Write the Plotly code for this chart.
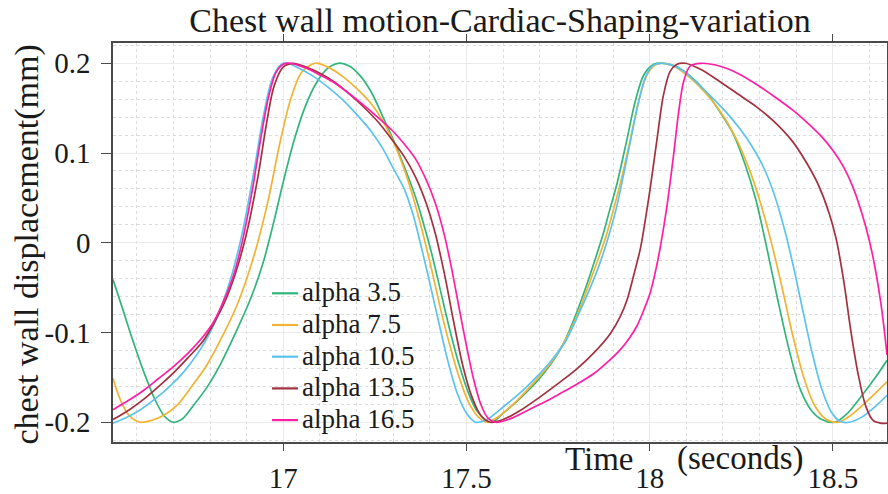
import plotly.graph_objects as go

# ---------------- data ----------------
series_names = ["alpha 3.5", "alpha 7.5", "alpha 10.5", "alpha 13.5", "alpha 16.5"]
series_colors = ["#31b57b", "#f2b332", "#5cc3ee", "#a3313f", "#ff1fa6"]

t_a35 = [16.535, 16.56, 16.59, 16.62, 16.65, 16.675, 16.70, 16.725, 16.755, 16.79, 16.83, 16.87, 16.91,
         16.945, 16.975, 17.00, 17.03, 17.06, 17.09, 17.12, 17.15, 17.18, 17.21, 17.24, 17.27, 17.30,
         17.33, 17.36, 17.38, 17.405, 17.43, 17.455, 17.48, 17.505, 17.53, 17.568, 17.60, 17.65, 17.70,
         17.756, 17.79, 17.829, 17.85, 17.874, 17.89, 17.911, 17.938, 17.961, 17.984, 18.011, 18.04, 18.075,
         18.11, 18.15, 18.19, 18.23, 18.26, 18.29, 18.32, 18.35, 18.38, 18.41, 18.44, 18.47, 18.505,
         18.54, 18.58, 18.62, 18.648]
y_a35 = [-0.041, -0.072, -0.110, -0.145, -0.175, -0.193, -0.200, -0.196, -0.181, -0.162, -0.134, -0.100, -0.063,
         -0.022, 0.025, 0.068, 0.115, 0.152, 0.178, 0.194, 0.200, 0.197, 0.186, 0.168, 0.142, 0.115,
         0.085, 0.052, 0.025, -0.012, -0.055, -0.098, -0.136, -0.167, -0.188, -0.200, -0.190, -0.172, -0.151,
         -0.119, -0.089, -0.046, -0.020, 0.011, 0.035, 0.066, 0.115, 0.158, 0.187, 0.199, 0.200, 0.196,
         0.186, 0.170, 0.147, 0.120, 0.088, 0.048, -0.006, -0.064, -0.118, -0.162, -0.186, -0.197, -0.200,
         -0.190, -0.170, -0.148, -0.131]

t_a75 = [16.535, 16.555, 16.58, 16.609, 16.64, 16.675, 16.71, 16.75, 16.79, 16.83, 16.87, 16.90, 16.93,
         16.96, 16.99, 17.02, 17.05, 17.087, 17.12, 17.16, 17.20, 17.24, 17.27, 17.30, 17.33, 17.355,
         17.38, 17.405, 17.43, 17.455, 17.48, 17.505, 17.53, 17.555, 17.59, 17.64, 17.69, 17.73, 17.765,
         17.80, 17.84, 17.88, 17.90, 17.92, 17.947, 17.97, 17.993, 18.015, 18.037, 18.07, 18.11, 18.15,
         18.19, 18.23, 18.27, 18.30, 18.33, 18.36, 18.39, 18.42, 18.45, 18.48, 18.514, 18.55, 18.60, 18.648]
y_a75 = [-0.151, -0.175, -0.193, -0.200, -0.198, -0.192, -0.181, -0.160, -0.137, -0.107, -0.073, -0.040, 0.000,
         0.050, 0.110, 0.160, 0.190, 0.200, 0.196, 0.186, 0.172, 0.155, 0.137, 0.113, 0.082, 0.050,
         0.012, -0.030, -0.075, -0.115, -0.150, -0.177, -0.193, -0.200, -0.193, -0.175, -0.153, -0.134, -0.112,
         -0.083, -0.040, 0.006, 0.035, 0.066, 0.115, 0.158, 0.187, 0.198, 0.200, 0.196, 0.184, 0.168,
         0.148, 0.121, 0.084, 0.048, 0.004, -0.047, -0.102, -0.149, -0.181, -0.196, -0.200, -0.192, -0.174, -0.155]

t_a105 = [16.535, 16.57, 16.61, 16.65, 16.69, 16.73, 16.77, 16.80, 16.83, 16.86, 16.89, 16.92, 16.945,
          16.97, 16.995, 17.01, 17.04, 17.08, 17.12, 17.16, 17.20, 17.24, 17.27, 17.30, 17.33, 17.355,
          17.375, 17.40, 17.425, 17.45, 17.475, 17.50, 17.525, 17.555, 17.60, 17.65, 17.69, 17.73, 17.77,
          17.81, 17.85, 17.87, 17.89, 17.91, 17.93, 17.95, 17.97, 17.99, 18.01, 18.03, 18.06, 18.09,
          18.13, 18.17, 18.21, 18.25, 18.28, 18.31, 18.34, 18.37, 18.395, 18.42, 18.445, 18.47, 18.495,
          18.52, 18.545, 18.58, 18.62, 18.648]
y_a105 = [-0.201, -0.195, -0.186, -0.174, -0.160, -0.143, -0.121, -0.100, -0.072, -0.035, 0.015, 0.080, 0.140,
          0.183, 0.199, 0.200, 0.195, 0.186, 0.174, 0.160, 0.143, 0.124, 0.106, 0.083, 0.060, 0.030,
          -0.002, -0.045, -0.090, -0.133, -0.168, -0.190, -0.200, -0.197, -0.183, -0.166, -0.150, -0.132, -0.110,
          -0.076, -0.038, -0.016, 0.010, 0.040, 0.078, 0.118, 0.157, 0.186, 0.198, 0.200, 0.198, 0.192,
          0.178, 0.162, 0.145, 0.125, 0.107, 0.085, 0.054, 0.012, -0.031, -0.079, -0.125, -0.163, -0.188,
          -0.199, -0.200, -0.194, -0.181, -0.170]

t_a135 = [16.535, 16.58, 16.62, 16.66, 16.70, 16.74, 16.78, 16.81, 16.84, 16.87, 16.90, 16.93, 16.955,
          16.975, 17.0, 17.027, 17.06, 17.10, 17.14, 17.18, 17.22, 17.26, 17.30, 17.33, 17.36, 17.39,
          17.415, 17.44, 17.465, 17.49, 17.515, 17.54, 17.565, 17.60, 17.65, 17.70, 17.756, 17.80, 17.847,
          17.893, 17.92, 17.938, 17.956, 17.975, 17.988, 18.002, 18.02, 18.038, 18.056, 18.075, 18.097,
          18.14, 18.19, 18.24, 18.29, 18.34, 18.39, 18.43, 18.46, 18.49, 18.51, 18.53, 18.55, 18.57, 18.59,
          18.61, 18.63, 18.648]
y_a135 = [-0.197, -0.186, -0.174, -0.160, -0.145, -0.128, -0.110, -0.090, -0.066, -0.033, 0.011, 0.072, 0.135,
          0.175, 0.196, 0.200, 0.196, 0.189, 0.179, 0.166, 0.151, 0.134, 0.113, 0.096, 0.074, 0.044,
          0.010, -0.035, -0.088, -0.137, -0.172, -0.193, -0.200, -0.197, -0.186, -0.172, -0.155, -0.141, -0.123,
          -0.101, -0.082, -0.064, -0.037, -0.006, 0.025, 0.062, 0.115, 0.165, 0.191, 0.199, 0.200,
          0.193, 0.180, 0.166, 0.152, 0.135, 0.113, 0.088, 0.065, 0.033, 0.003, -0.043, -0.100, -0.148, -0.182,
          -0.198, -0.201, -0.201]

t_a165 = [16.535, 16.58, 16.62, 16.66, 16.70, 16.74, 16.78, 16.81, 16.84, 16.865, 16.89, 16.915, 16.94,
          16.96, 16.98, 17.0, 17.02, 17.06, 17.10, 17.14, 17.18, 17.22, 17.26, 17.30, 17.33, 17.36,
          17.39, 17.415, 17.44, 17.46, 17.48, 17.50, 17.52, 17.54, 17.56, 17.58, 17.62, 17.67, 17.72,
          17.756, 17.80, 17.847, 17.885, 17.92, 17.945, 17.965, 17.985, 18.002, 18.017, 18.029, 18.047,
          18.066, 18.079, 18.093, 18.111, 18.14, 18.19, 18.24, 18.29, 18.34, 18.39, 18.43, 18.47, 18.50,
          18.53, 18.555, 18.58, 18.60, 18.615, 18.63, 18.64, 18.648]
y_a165 = [-0.186, -0.175, -0.164, -0.151, -0.138, -0.123, -0.105, -0.088, -0.062, -0.035, 0.005, 0.058, 0.120,
          0.163, 0.190, 0.199, 0.200, 0.195, 0.187, 0.178, 0.166, 0.153, 0.139, 0.124, 0.110, 0.094,
          0.070, 0.044, 0.008, -0.030, -0.073, -0.115, -0.153, -0.181, -0.196, -0.200, -0.196, -0.186, -0.176,
          -0.168, -0.158, -0.146, -0.133, -0.119, -0.106, -0.093, -0.074, -0.055, -0.030, -0.005, 0.040,
          0.100, 0.145, 0.180, 0.197, 0.200, 0.197, 0.189, 0.177, 0.163, 0.148, 0.134, 0.118, 0.103,
          0.084, 0.062, 0.032, 0.002, -0.027, -0.064, -0.095, -0.125]

series_t = [t_a35, t_a75, t_a105, t_a135, t_a165]
series_y = [y_a35, y_a75, y_a105, y_a135, y_a165]

x_tickvals = [17, 17.5, 18, 18.5]
x_ticktext = ["17", "17.5", "18", "18.5"]
y_tickvals = [-0.2, -0.1, 0, 0.1, 0.2]
y_ticktext = ["-0.2", "-0.1", "0", "0.1", "0.2"]

title_text = "Chest wall motion-Cardiac-Shaping-variation"
ytitle_text = "chest wall displacement(mm)"
xtitle_parts = ["Time", "(seconds)"]

# ---------------- figure ----------------
SERIF = "Liberation Serif, Times New Roman, serif"
W, H = 888, 494
ML, MR, MT, MB = 113, 1, 43, 52
PW, PH = W - ML - MR, H - MT - MB

fig = go.Figure()
for name, col, t, y in zip(series_names, series_colors, series_t, series_y):
    fig.add_trace(go.Scatter(x=t, y=y, mode="lines", name=name,
                             line=dict(color=col, width=1.7, shape="spline", smoothing=0.9),
                             showlegend=False))

axis_common = dict(
    showline=True, linecolor="#4a4a4a", linewidth=1.5, mirror="ticks",
    ticks="outside", tickcolor="#4a4a4a", tickwidth=1.3,
    showgrid=True, gridcolor="#ebebeb", gridwidth=1.2, zeroline=False,
    tickfont=dict(family=SERIF, size=29, color="#1a1a1a"),
)

fig.update_xaxes(range=[16.535, 18.648], tickvals=x_tickvals, ticktext=x_ticktext,
                 ticklen=7, ticklabelstandoff=2,
                 minor=dict(dtick=0.1, tick0=17, showgrid=True, gridcolor="#dcdcdc",
                            griddash="dot", gridwidth=1, ticks=""),
                 **axis_common)
fig.update_yaxes(range=[-0.222, 0.2226], tickvals=y_tickvals, ticktext=y_ticktext,
                 ticklen=10, ticklabelstandoff=5,
                 minor=dict(dtick=0.02, tick0=0, showgrid=True, gridcolor="#dcdcdc",
                            griddash="dot", gridwidth=1, ticks=""),
                 **axis_common)

annotations = [
    dict(text=xtitle_parts[0], xref="paper", yref="paper", x=(563 - ML) / PW, y=(MT + PH - 458.5) / PH,
         xanchor="left", yanchor="middle", showarrow=False,
         font=dict(family=SERIF, size=33, color="#1a1a1a")),
    dict(text=xtitle_parts[1], xref="paper", yref="paper", x=(675 - ML) / PW, y=(MT + PH - 458.5) / PH,
         xanchor="left", yanchor="middle", showarrow=False,
         font=dict(family=SERIF, size=33, color="#1a1a1a")),
    dict(text=ytitle_text, xref="paper", yref="paper", x=(27 - ML) / PW, y=0.495,
         xanchor="center", yanchor="middle", textangle=-90, showarrow=False,
         font=dict(family=SERIF, size=34, color="#1a1a1a")),
]

# custom legend (inside plot)
shapes = []
leg_y0 = (MT + PH - 293.3) / PH
leg_step = 31.7 / PH
for i, (name, col) in enumerate(zip(series_names, series_colors)):
    yy = leg_y0 - i * leg_step
    shapes.append(dict(type="line", xref="paper", yref="paper",
                       x0=(272 - ML) / PW, x1=(298 - ML) / PW, y0=yy, y1=yy,
                       line=dict(color=col, width=2.2)))
    annotations.append(dict(text=name, xref="paper", yref="paper", x=(300 - ML) / PW, y=yy + 1 / PH,
                            xanchor="left", yanchor="middle", showarrow=False,
                            font=dict(family=SERIF, size=27, color="#1a1a1a")))

fig.update_layout(
    width=W, height=H,
    margin=dict(l=ML, r=MR, t=MT, b=MB, autoexpand=False),
    paper_bgcolor="white", plot_bgcolor="white",
    title=dict(text=title_text, x=0.5 * (ML + W - MR) / W, xanchor="center",
               xref="container", y=1 - 20 / H, yanchor="middle", yref="container",
               font=dict(family=SERIF, size=34, color="#1a1a1a")),
    annotations=annotations, shapes=shapes, showlegend=False,
)

fig.write_html("out.html")
